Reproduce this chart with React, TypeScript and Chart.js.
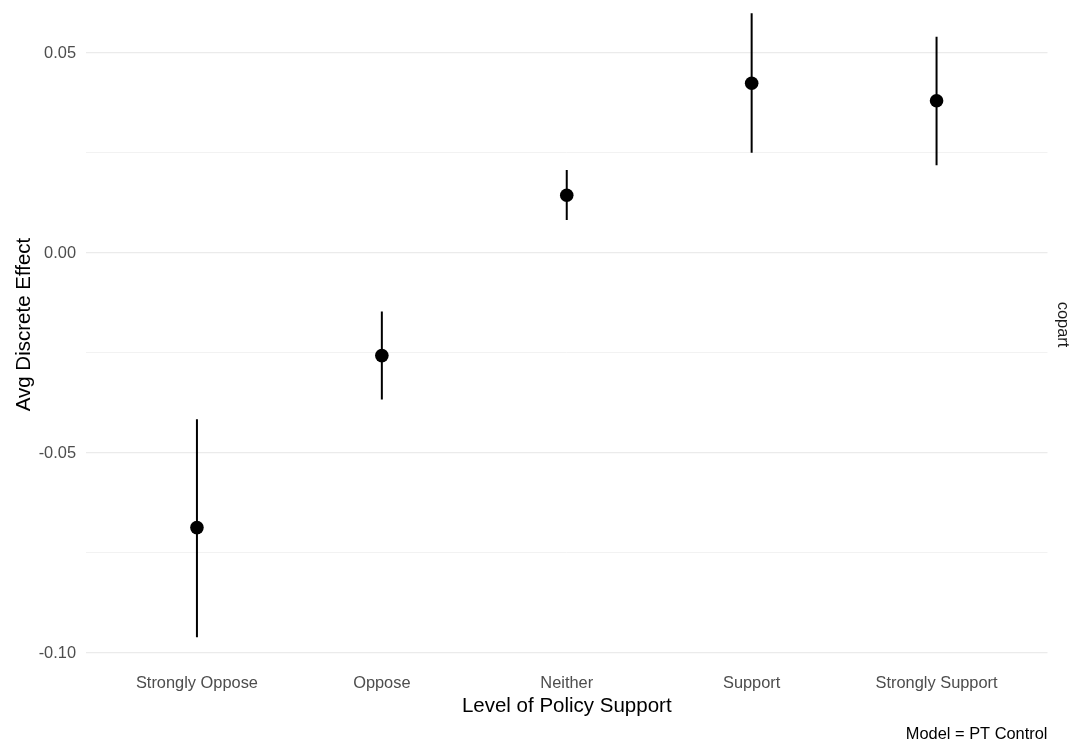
import React, { useEffect, useRef } from "react";
import { Chart, registerables } from "chart.js";

Chart.register(...registerables);

// Levels of policy support shown along the x axis
const categories = ["Strongly Oppose", "Oppose", "Neither", "Support", "Strongly Support"];

// Average discrete effect with lower / upper interval bounds
const estimates = [-0.0688, -0.0258, 0.0143, 0.0423, 0.0379];
const lowerBounds = [-0.0962, -0.0368, 0.0081, 0.0249, 0.0218];
const upperBounds = [-0.0417, -0.0148, 0.0206, 0.0598, 0.0539];

// Y axis gridline positions; labelled ones every 0.05
const yGridValues = [-0.1, -0.075, -0.05, -0.025, 0, 0.025, 0.05];
const yLabelValues = [-0.1, -0.05, 0, 0.05];

const yAxisTitle = "Avg Discrete Effect";
const xAxisTitle = "Level of Policy Support";
const captionText = "Model = PT Control";
const stripText = "copart";

const FONT = "'Liberation Sans', Arial, Helvetica, sans-serif";
const W = 1069;
const H = 746;

const isMajor = (v: number) => yLabelValues.some((m) => Math.abs(m - v) < 1e-9);

const annotations = {
  id: "annotations",
  afterDraw(chart: Chart) {
    const ctx = chart.ctx;
    const area = chart.chartArea;
    const yScale = chart.scales.y;
    const midY = 324.5;
    ctx.save();

    // y tick labels
    ctx.fillStyle = "#4d4d4d";
    ctx.font = `16.4px ${FONT}`;
    ctx.textAlign = "right";
    ctx.textBaseline = "middle";
    yLabelValues.forEach((v) => {
      ctx.fillText(v.toFixed(2), area.left - 10, yScale.getPixelForValue(v) + 1);
    });

    ctx.fillStyle = "#000000";

    // y axis title (reads bottom to top)
    ctx.font = `20.5px ${FONT}`;
    ctx.textAlign = "center";
    ctx.textBaseline = "alphabetic";
    ctx.save();
    ctx.translate(29.5, midY);
    ctx.rotate(-Math.PI / 2);
    ctx.fillText(yAxisTitle, 0, 0);
    ctx.restore();

    // x axis title
    ctx.fillText(xAxisTitle, (area.left + area.right) / 2, 712);

    // caption
    ctx.font = `16.4px ${FONT}`;
    ctx.textAlign = "right";
    ctx.fillText(captionText, area.right, 739);

    // facet strip label (reads top to bottom)
    ctx.fillStyle = "#1a1a1a";
    ctx.textAlign = "center";
    ctx.save();
    ctx.translate(1057.5, midY);
    ctx.rotate(Math.PI / 2);
    ctx.fillText(stripText, 0, 0);
    ctx.restore();

    ctx.restore();
  },
};

export default function App() {
  const canvasRef = useRef<HTMLCanvasElement | null>(null);

  useEffect(() => {
    if (!canvasRef.current) return;

    const intervalSets = categories.map((_, i) => ({
      type: "line" as const,
      data: [
        { x: i, y: lowerBounds[i] },
        { x: i, y: upperBounds[i] },
      ],
      borderColor: "#000000",
      borderWidth: 2,
      pointRadius: 0,
      showLine: true,
      order: 2,
    }));

    const chart = new Chart(canvasRef.current, {
      type: "scatter",
      data: {
        datasets: [
          {
            data: estimates.map((v, i) => ({ x: i, y: v })),
            backgroundColor: "#000000",
            borderColor: "#000000",
            pointRadius: 6.8,
            pointHoverRadius: 6.8,
            borderWidth: 0,
            order: 1,
          } as any,
          ...intervalSets,
        ],
      },
      options: {
        animation: false,
        responsive: false,
        layout: { padding: { left: 0, right: 21.5, top: 2, bottom: 0 } },
        plugins: {
          legend: { display: false },
          tooltip: { enabled: false },
        },
        scales: {
          x: {
            type: "linear",
            min: -0.6,
            max: 4.6,
            afterBuildTicks: (scale: any) => {
              scale.ticks = categories.map((_, i) => ({ value: i }));
            },
            afterFit: (scale: any) => {
              scale.height = 78;
            },
            ticks: {
              autoSkip: false,
              maxRotation: 0,
              padding: 5.5,
              color: "#4d4d4d",
              font: { family: FONT, size: 16.4 },
              callback: (v: any) => categories[Math.round(Number(v))] ?? "",
            },
            grid: { display: false, drawTicks: false },
            border: { display: false },
          },
          y: {
            type: "linear",
            min: -0.1039,
            max: 0.0614,
            afterBuildTicks: (scale: any) => {
              scale.ticks = yGridValues.map((v) => ({ value: v }));
            },
            afterFit: (scale: any) => {
              scale.width = 86;
            },
            ticks: { display: false },
            grid: {
              drawTicks: false,
              color: (c: any) => (isMajor(c.tick?.value) ? "#ebebeb" : "#f0f0f0"),
              lineWidth: (c: any) => (isMajor(c.tick?.value) ? 1.3 : 0.9),
            },
            border: { display: false },
          },
        },
      },
      plugins: [annotations],
    });

    return () => chart.destroy();
  }, []);

  return (
    <div style={{ position: "absolute", left: 0, top: 0, width: W, height: H, background: "#ffffff" }}>
      <canvas ref={canvasRef} width={W} height={H} style={{ display: "block" }} />
    </div>
  );
}
